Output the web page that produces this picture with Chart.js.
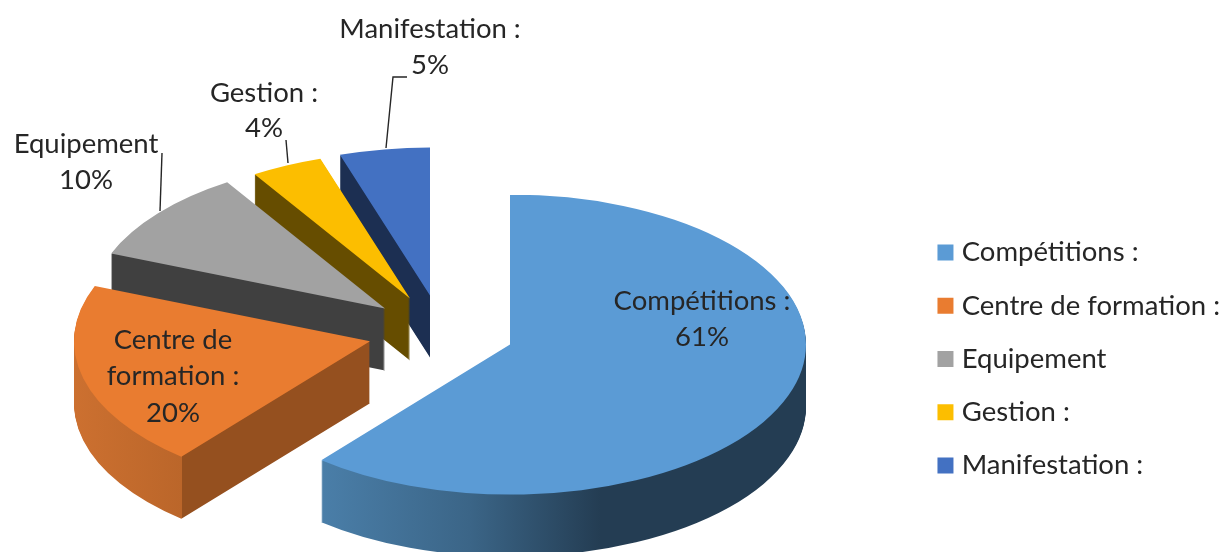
<!DOCTYPE html>
<html><head><meta charset="utf-8">
<style>html,body{margin:0;padding:0;background:#fff}#w{width:1226px;height:552px}</style>
<script src="https://cdn.jsdelivr.net/npm/chart.js@4/dist/chart.umd.min.js"></script>
</head><body><div id="w"><canvas id="c" width="1226" height="552"></canvas></div>
<script>
const categories = ['Compétitions :', 'Centre de formation :', 'Equipement', 'Gestion :', 'Manifestation :'];
const shares = [61, 20, 10, 4, 5];
const topColors = ['#5b9bd5', '#e97c30', '#a2a2a2', '#fcbe00', '#4371c2'];
const wallStops = [
  [[323, '#4a7ea8'], [470, '#3b6587'], [600, '#243d53'], [806, '#243d53']],
  [[75, '#cc7030'], [181.5, '#bb662a'], [182.5, '#95501f'], [370, '#95501f']],
  [[0, '#404040'], [1226, '#404040']],
  [[0, '#664d00'], [1226, '#664d00']],
  [[0, '#1c2f52'], [1226, '#1c2f52']]
];
const perspective = [1, 1, 0.995, 0.98, 0.985];
const labelLines = [['Compétitions :', '61%'], ['Centre de', 'formation :', '20%'], ['Equipement', '10%'], ['Gestion :', '4%'], ['Manifestation :', '5%']];
const labelX = [702, 173, 86, 264, 430];
const labelY = [[301, 337], [340, 376, 413], [144, 180], [93, 128], [29, 65]];
const leaders = [null, null, [[162, 153], [160, 211]], [[286, 140], [288, 163]], [[386, 148], [393, 77], [407, 77]]];
const FONT = 'Lato';
const view = {cx: 441, cy: 332, radius: 296, squash: 0.507, depth: 62, explode: 73};

const pie3d = {
  id: 'pie3d',
  beforeDatasetsDraw(chart) {
    const ctx = chart.ctx, arcs = chart.getDatasetMeta(0).data;
    const paint = (el, k, fill, dy, ox, oy) => {
      const face = Object.create(el);
      face.outerRadius = el.outerRadius * k;
      face.options = Object.assign({}, el.options, {backgroundColor: fill, borderWidth: 0});
      ctx.save();
      ctx.translate(ox, oy + dy);
      ctx.scale(1, view.squash);
      ctx.translate(-el.x, -el.y);
      face.draw(ctx);
      ctx.restore();
    };
    [4, 3, 2, 1, 0].forEach(i => {
      const el = arcs[i], mid = (el.startAngle + el.endAngle) / 2;
      const ox = Math.round(view.cx + Math.cos(mid) * view.explode);
      const oy = view.cy + Math.sin(mid) * view.explode * view.squash;
      const tx = ox - el.x, st = wallStops[i];
      const g = ctx.createLinearGradient(st[0][0] - tx, 0, st[st.length - 1][0] - tx, 0);
      const span = st[st.length - 1][0] - st[0][0];
      st.forEach(s => g.addColorStop((s[0] - st[0][0]) / span, s[1]));
      for (let d = view.depth; d >= 1; d--) paint(el, perspective[i], g, d, ox, oy);
      paint(el, perspective[i], topColors[i], 0, ox, oy);
    });
    return false;
  },
  afterDraw(chart) {
    const ctx = chart.ctx;
    ctx.save();
    ctx.strokeStyle = '#262626'; ctx.lineWidth = 1.4;
    leaders.forEach(p => {
      if (!p) return;
      ctx.beginPath();
      p.forEach((q, k) => k ? ctx.lineTo(q[0], q[1]) : ctx.moveTo(q[0], q[1]));
      ctx.stroke();
    });
    ctx.font = '27.5px ' + FONT; ctx.fillStyle = '#262626';
    ctx.textAlign = 'center'; ctx.textBaseline = 'middle';
    labelLines.forEach((lines, i) => lines.forEach((t, k) => ctx.fillText(t, labelX[i], labelY[i][k])));
    ctx.restore();
  }
};

new Chart(document.getElementById('c'), {
  type: 'pie',
  data: {labels: categories, datasets: [{data: shares, backgroundColor: topColors, borderWidth: 0}]},
  options: {
    responsive: false, animation: false, radius: view.radius,
    layout: {padding: {top: 166, right: -4}},
    plugins: {
      tooltip: {enabled: false},
      legend: {
        position: 'right',
        labels: {
          boxWidth: 5, boxHeight: 5, padding: 25.8, color: '#262626',
          font: {family: FONT, size: 27.5},
          generateLabels(chart) {
            return Chart.overrides.pie.plugins.legend.labels.generateLabels(chart)
              .map(l => Object.assign(l, {strokeStyle: l.fillStyle, lineWidth: 11}));
          }
        }
      }
    }
  },
  plugins: [pie3d]
});
</script></body></html>
